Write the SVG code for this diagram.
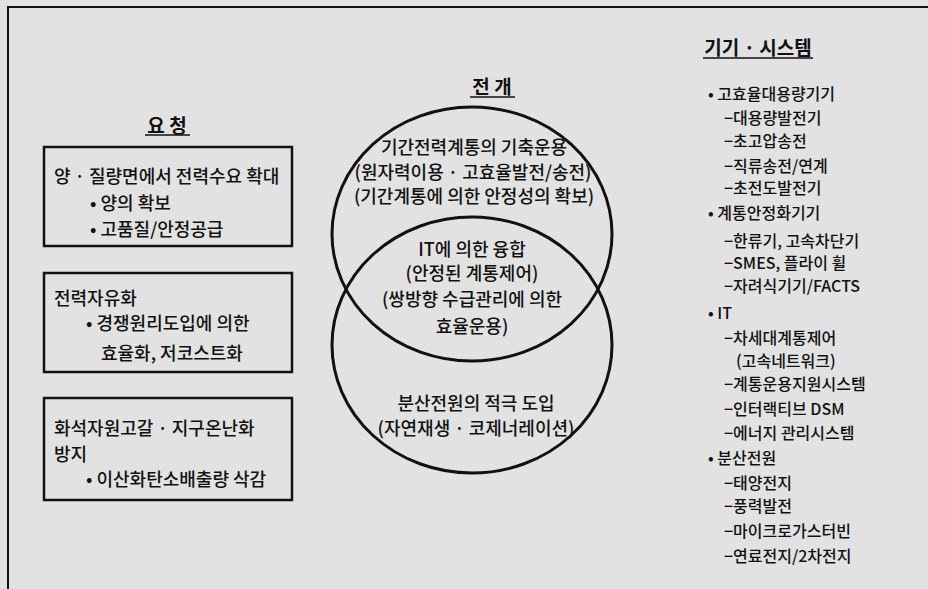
<svg xmlns="http://www.w3.org/2000/svg" width="928" height="589" viewBox="0 0 928 589">
<style>
text{font-family:"Noto Sans CJK KR","Noto Sans",sans-serif;fill:#111;dominant-baseline:central;font-weight:500}
.t{font-size:18px}
.c{font-size:18px;text-anchor:middle}
.r{font-size:16px}
.h{font-size:19px;font-weight:bold}
.box{fill:none;stroke:#111;stroke-width:2.5}
.ell{fill:none;stroke:#111;stroke-width:3}
.ul{stroke:#111;stroke-width:1.5}
</style>
<rect x="0" y="0" width="928" height="589" fill="#e2e2e2"/>
<path d="M8 589 V7 H928" fill="none" stroke="#111" stroke-width="2"/>

<g id="title-request">
<text class="h" x="167" y="124" text-anchor="middle">요 청</text>
<line class="ul" x1="145" y1="135" x2="190" y2="135"/>
</g>
<g id="title-develop">
<text class="h" x="492" y="85" text-anchor="middle">전 개</text>
<line class="ul" x1="470" y1="97" x2="515" y2="97"/>
</g>
<g id="title-devices">
<text class="h" x="758" y="46" text-anchor="middle">기기 · 시스템</text>
<line class="ul" x1="703" y1="58" x2="813" y2="58"/>
</g>

<g id="box1">
<rect class="box" x="44" y="147" width="248" height="99"/>
<text class="t" x="54" y="175">양 · 질량면에서 전력수요 확대</text>
<text class="t" x="90" y="202">• 양의 확보</text>
<text class="t" x="90" y="228">• 고품질/안정공급</text>
</g>
<g id="box2">
<rect class="box" x="44" y="273" width="248" height="99"/>
<text class="t" x="54" y="297">전력자유화</text>
<text class="t" x="86" y="322">• 경쟁원리도입에 의한</text>
<text class="t" x="101" y="352">효율화, 저코스트화</text>
</g>
<g id="box3">
<rect class="box" x="44" y="398" width="248" height="102"/>
<text class="t" x="54" y="427">화석자원고갈 · 지구온난화</text>
<text class="t" x="54" y="453">방지</text>
<text class="t" x="86" y="478">• 이산화탄소배출량 삭감</text>
</g>

<g id="ellipse-top">
<ellipse class="ell" cx="472" cy="234" rx="140" ry="127"/>
<text class="c" x="474" y="146">기간전력계통의 기축운용</text>
<text class="c" x="473" y="171">(원자력이용 · 고효율발전/송전)</text>
<text class="c" x="474" y="195">(기간계통에 의한 안정성의 확보)</text>
</g>
<g id="overlap">
<text class="c" x="472" y="248">IT에 의한 융합</text>
<text class="c" x="472" y="272">(안정된 계통제어)</text>
<text class="c" x="472" y="298">(쌍방향 수급관리에 의한</text>
<text class="c" x="472" y="325">효율운용)</text>
</g>
<g id="ellipse-bottom">
<ellipse class="ell" cx="472" cy="345" rx="140" ry="128"/>
<text class="c" x="476" y="402">분산전원의 적극 도입</text>
<text class="c" x="476" y="427">(자연재생 · 코제너레이션)</text>
</g>

<g id="devices-list">
<text class="r" x="708" y="93">• 고효율대용량기기</text>
<text class="r" x="724" y="117">−대용량발전기</text>
<text class="r" x="724" y="140">−초고압송전</text>
<text class="r" x="724" y="165">−직류송전/연계</text>
<text class="r" x="724" y="187">−초전도발전기</text>
<text class="r" x="708" y="212">• 계통안정화기기</text>
<text class="r" x="724" y="240">−한류기, 고속차단기</text>
<text class="r" x="724" y="262">−SMES, 플라이 휠</text>
<text class="r" x="724" y="285">−자려식기기/FACTS</text>
<text class="r" x="708" y="312">• IT</text>
<text class="r" x="724" y="337">−차세대계통제어</text>
<text class="r" x="736" y="360">(고속네트워크)</text>
<text class="r" x="724" y="383">−계통운용지원시스템</text>
<text class="r" x="724" y="408">−인터랙티브 DSM</text>
<text class="r" x="724" y="432">−에너지 관리시스템</text>
<text class="r" x="708" y="457">• 분산전원</text>
<text class="r" x="724" y="482">−태양전지</text>
<text class="r" x="724" y="505">−풍력발전</text>
<text class="r" x="724" y="530">−마이크로가스터빈</text>
<text class="r" x="724" y="555">−연료전지/2차전지</text>
</g>
<g id="connectors"></g>
</svg>
